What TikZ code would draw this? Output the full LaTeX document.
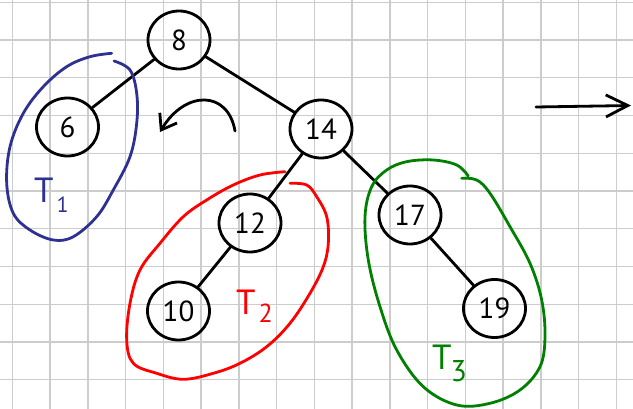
\documentclass[tikz,border=0pt]{standalone}
\usepackage{fontspec}
\setmainfont{PT Sans}
\usetikzlibrary{arrows.meta,shapes.geometric}
\definecolor{gridgray}{RGB}{204,204,204}
\definecolor{tblue}{RGB}{46,49,146}
\definecolor{tred}{RGB}{255,0,0}
\definecolor{tgreen}{RGB}{0,128,0}
\begin{document}
\begin{tikzpicture}[x=1pt,y=-1pt,
  treenode/.style={ellipse, draw=black, line width=2.8pt, minimum width=62pt, minimum height=58pt, inner sep=0pt, font=\fontsize{29}{29}\selectfont},
  edge/.style={line width=2.8pt, black, line cap=round},
  loopline/.style={line width=2.8pt, line cap=round, line join=round},
  sublabel/.style={anchor=base west, inner sep=0pt, font=\fontsize{35}{35}\selectfont},
]
\useasboundingbox (0,0) rectangle (633,409);
\fill[white] (0,0) rectangle (633,409);
\foreach \k in {0,...,16} \draw[gridgray, line width=1.4pt] ({12.3+37.75*\k},0) -- ({12.3+37.75*\k},409);
\foreach \k in {0,...,10} \draw[gridgray, line width=1.4pt] (0,{2.3+37.75*\k}) -- (633,{2.3+37.75*\k});

\node[treenode] (n8) at (179,40) {8};
\node[treenode] (n6) at (67.5,127) {6};
\node[treenode] (n14) at (321,129) {14};
\node[treenode] (n12) at (250,223) {12};
\node[treenode] (n10) at (178.5,311) {10};
\node[treenode] (n17) at (410,215) {17};
\node[treenode] (n19) at (494.5,308.5) {19};

\draw[edge] (n8) -- (n6);
\draw[edge] (n8) -- (n14);
\draw[edge] (n14) -- (n12);
\draw[edge] (n14) -- (n17);
\draw[edge] (n12) -- (n10);
\draw[edge] (n17) -- (n19);

\coordinate (ca) at (235,131);
\coordinate (cb) at (160,132);
\draw[edge, -{Straight Barb[length=14pt,width=20pt]}] (ca) .. controls (228,90) and (185,90) .. (cb);

\coordinate (ra) at (536,107);
\coordinate (rb) at (631,105.5);
\draw[edge, -{Straight Barb[length=22pt,width=22pt]}] (ra) -- (rb);

\draw[loopline, tblue] plot[smooth, tension=0.6] coordinates {(111.7,53.3) (90,56.7) (66.7,66.7) (43.3,86.7) (23.3,113.3) (10,146.7) (6.7,183.3) (13.3,213.3) (30,230) (53.3,240) (73.3,236.7) (96.7,216.7) (113.3,190) (130,156.7) (136.7,123.3) (136.7,93.3) (130,70) (114,61)};

\draw[loopline, tred] plot[smooth, tension=0.6] coordinates {(285,171.7) (260,175) (233.3,185) (206.7,200) (183.3,216.7) (160,243.3) (140,270) (130,303.3) (126.7,340) (133.3,363.3) (156.7,373.3) (183.3,379.3) (213.3,373.3) (240,363.3) (266.7,346.7) (290,323.3) (310,293.3) (323.3,266.7) (328.3,243.3) (326.7,216.7) (316.7,196.7) (306.7,185) (290,183.3)};

\draw[loopline, tgreen] plot[smooth, tension=0.6] coordinates {(468.3,176) (456.7,165) (433.3,160) (406.7,161.7) (386.7,170) (371.7,186.7) (365,216.7) (368.3,260) (380,306.7) (396.7,350) (423.3,386.7) (456.7,405) (490,403.3) (520,390) (540,366.7) (545,336.7) (541.7,300) (530,263.3) (510,226.7) (490,193.3) (476.7,180) (461.7,178.3)};

\node[sublabel, tblue] (t1) at (34,203) {T\kern3pt\raisebox{-10pt}{\fontsize{22}{22}\selectfont 1}};
\node[sublabel, tred] (t2) at (236,315) {T\kern3pt\raisebox{-8pt}{\fontsize{26}{26}\selectfont 2}};
\node[sublabel, tgreen] (t3) at (432,370) {T\kern-1pt\raisebox{-12pt}{\fontsize{30}{30}\selectfont 3}};
\end{tikzpicture}
\end{document}
